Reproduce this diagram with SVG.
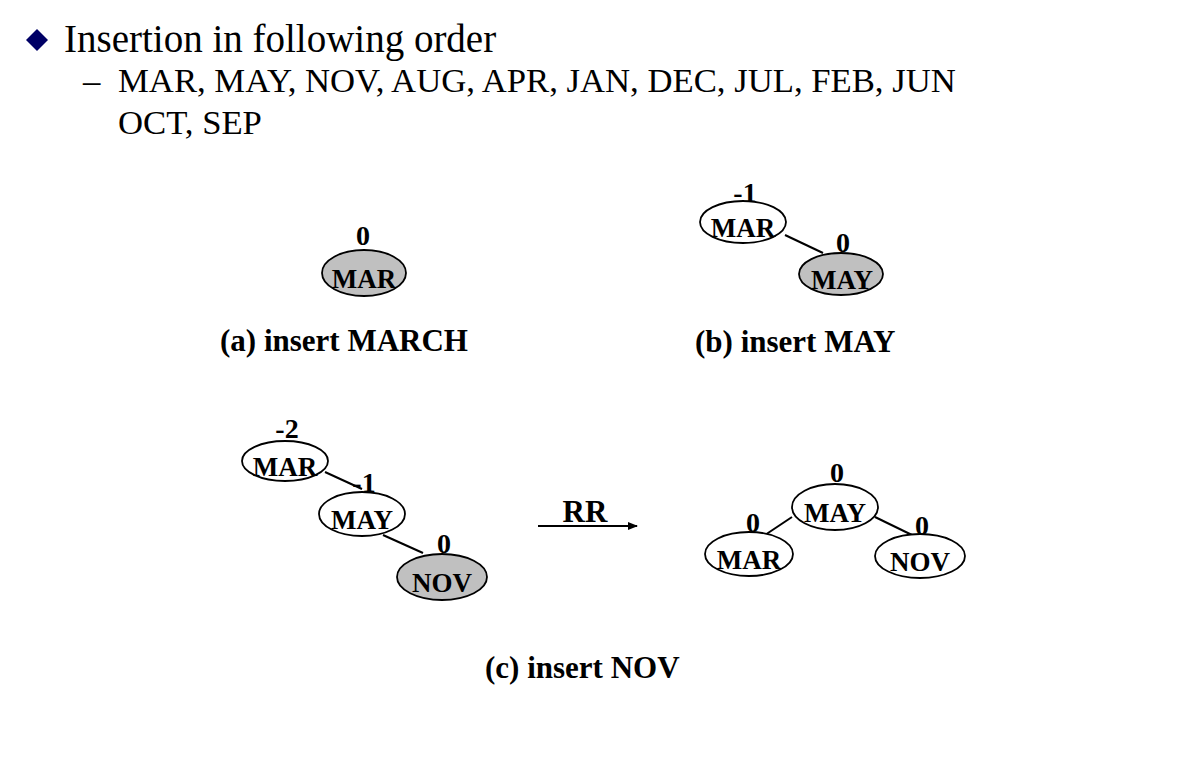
<svg xmlns="http://www.w3.org/2000/svg" width="1182" height="768" viewBox="0 0 1182 768">
<style>
.t{font-family:"Liberation Serif","Times New Roman",serif;fill:#000}
.lbl{font-family:"Liberation Serif","Times New Roman",serif;font-weight:bold;font-size:27px;text-anchor:middle}
.bal{font-family:"Liberation Serif","Times New Roman",serif;font-weight:bold;font-size:28px;text-anchor:middle}
.cap{font-family:"Liberation Serif","Times New Roman",serif;font-weight:bold;font-size:31px}
.n{fill:#fff;stroke:#000;stroke-width:1.8}
.g{fill:#c0c0c0;stroke:#000;stroke-width:1.8}
.e{stroke:#000;stroke-width:2;fill:none}
</style>
<defs>
<marker id="ah" markerWidth="10" markerHeight="8" refX="9" refY="4" orient="auto" markerUnits="userSpaceOnUse">
<path d="M0,0 L10,4 L0,8 z" fill="#000"/>
</marker>
</defs>
<rect width="1182" height="768" fill="#fff"/>
<g id="header">
<polygon points="37,29 48,40 37,51 26,40" fill="#000066"/>
<text class="t" x="64" y="52" font-size="39">Insertion in following order</text>
<text class="t" x="83" y="92" font-size="34.7">–</text>
<text class="t" x="118" y="92" font-size="34.7">MAR, MAY, NOV, AUG, APR, JAN, DEC, JUL, FEB, JUN</text>
<text class="t" x="118" y="134" font-size="34.7">OCT, SEP</text>
</g>
<g id="connectors">
<line class="e" x1="785" y1="235" x2="823" y2="253"/>
<line class="e" x1="325" y1="472" x2="362" y2="489"/>
<line class="e" x1="383" y1="535" x2="423" y2="553"/>
<line class="e" x1="792" y1="517" x2="765" y2="535"/>
<line class="e" x1="875" y1="517" x2="912" y2="535"/>
<line x1="538" y1="526" x2="637" y2="526" stroke="#000" stroke-width="2" marker-end="url(#ah)"/>
</g>
<g id="a-mar"><ellipse class="g" cx="364" cy="273" rx="42" ry="23"/><text class="lbl" x="364" y="288">MAR</text><text class="bal" x="363" y="245">0</text></g>
<text class="cap" x="220" y="351">(a) insert MARCH</text>
<g id="b-mar"><ellipse class="n" cx="743" cy="222" rx="43" ry="21"/><text class="lbl" x="743" y="237">MAR</text><text class="bal" x="745" y="202">-1</text></g>
<g id="b-may"><ellipse class="g" cx="841" cy="274" rx="42" ry="21"/><text class="lbl" x="842" y="289">MAY</text><text class="bal" x="843" y="252">0</text></g>
<text class="cap" x="695" y="352">(b) insert MAY</text>
<g id="c-mar"><ellipse class="n" cx="285" cy="461" rx="43" ry="20"/><text class="lbl" x="285" y="476">MAR</text><text class="bal" x="287" y="438">-2</text></g>
<g id="c-may"><ellipse class="n" cx="362" cy="514" rx="43" ry="22"/><text class="lbl" x="362" y="529">MAY</text><text class="bal" x="364" y="492">-1</text></g>
<g id="c-nov"><ellipse class="g" cx="442" cy="577" rx="45" ry="23"/><text class="lbl" x="442" y="592">NOV</text><text class="bal" x="444" y="553">0</text></g>
<text class="cap" x="585" y="522" text-anchor="middle" font-size="27">RR</text>
<g id="r-may"><ellipse class="n" cx="835" cy="507" rx="43" ry="23"/><text class="lbl" x="835" y="522">MAY</text><text class="bal" x="837" y="482">0</text></g>
<g id="r-mar"><ellipse class="n" cx="749" cy="554" rx="44" ry="22"/><text class="lbl" x="749" y="569">MAR</text><text class="bal" x="753" y="532">0</text></g>
<g id="r-nov"><ellipse class="n" cx="920" cy="556" rx="45" ry="22"/><text class="lbl" x="920" y="571">NOV</text><text class="bal" x="922" y="535">0</text></g>
<text class="cap" x="485" y="678">(c) insert NOV</text>
</svg>
